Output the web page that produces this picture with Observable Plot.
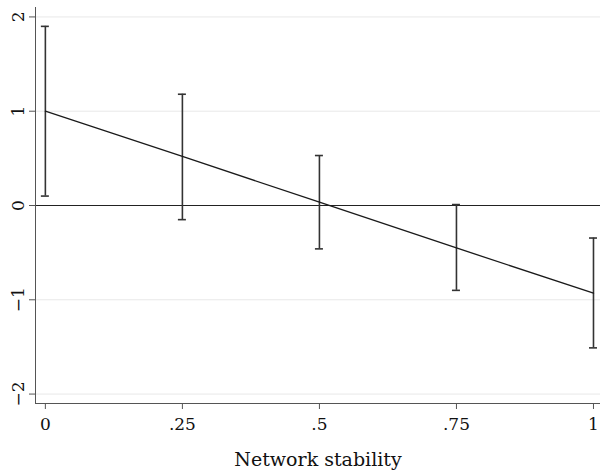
<!DOCTYPE html>
<html>
<head>
<meta charset="utf-8">
<script src="https://cdn.jsdelivr.net/npm/d3@7"></script>
<script src="https://cdn.jsdelivr.net/npm/@observablehq/plot@0.6"></script>
<style>
  html, body { margin: 0; padding: 0; background: #fff; }
  #chart svg { display: block; }
</style>
</head>
<body>
<div id="chart"></div>
<script>
const stability = [0, 0.25, 0.5, 0.75, 1];
const estimate = [1.0, 0.52, 0.035, -0.45, -0.93];
const ciLow = [0.10, -0.15, -0.46, -0.90, -1.51];
const ciHigh = [1.90, 1.18, 0.53, 0.01, -0.345];
const xTicks = [0, 0.25, 0.5, 0.75, 1];
const yTicks = [-2, -1, 0, 1, 2];
const xLabel = "Network stability";

const data = stability.map((x, i) => ({x, est: estimate[i], lo: ciLow[i], hi: ciHigh[i]}));
const fmtX = d => (d === 0 || d === 1) ? String(d) : String(d).replace(/^0/, "");
const fmtY = d => d < 0 ? "\u2212" + Math.abs(d) : String(d);

const chart = Plot.plot({
  width: 600,
  height: 472,
  marginLeft: 35,
  marginRight: 0,
  marginTop: 7,
  marginBottom: 69,
  style: {fontFamily: "DejaVu Serif", fontSize: "18px", background: "#fff", color: "#111"},
  x: {domain: [-0.018, 1.0128]},
  y: {domain: [-2.1, 2.1]},
  marks: [
    Plot.gridY(yTicks, {stroke: "#e8e8e8", strokeOpacity: 1}),
    Plot.ruleY([0], {stroke: "#222", strokeWidth: 1.2}),
    Plot.ruleX(data, {x: "x", y1: "lo", y2: "hi", stroke: "#333", strokeWidth: 1.6}),
    Plot.ruleY(data, {y: "lo", x1: "x", x2: "x", insetLeft: -4, insetRight: -4, stroke: "#333", strokeWidth: 1.6}),
    Plot.ruleY(data, {y: "hi", x1: "x", x2: "x", insetLeft: -4, insetRight: -4, stroke: "#333", strokeWidth: 1.6}),
    Plot.line(data, {x: "x", y: "est", stroke: "#1a1a1a", strokeWidth: 1.3}),
    Plot.frame({anchor: "left", stroke: "#555"}),
    Plot.frame({anchor: "bottom", stroke: "#555"}),
    Plot.axisX({ticks: xTicks, tickFormat: fmtX, tickSize: 6, tickPadding: 8, stroke: "#555", label: null, fill: "#111", fontSize: 17}),
    Plot.text([xLabel], {frameAnchor: "bottom", dy: 62, fontSize: 19, fill: "#111", lineAnchor: "bottom"}),
    Plot.axisY({ticks: yTicks, tickFormat: fmtY, tickSize: 6, tickRotate: -90, tickPadding: 6, stroke: "#555", label: null, fill: "#111", fontSize: 17})
  ]
});
document.getElementById("chart").appendChild(chart);
</script>
</body>
</html>
